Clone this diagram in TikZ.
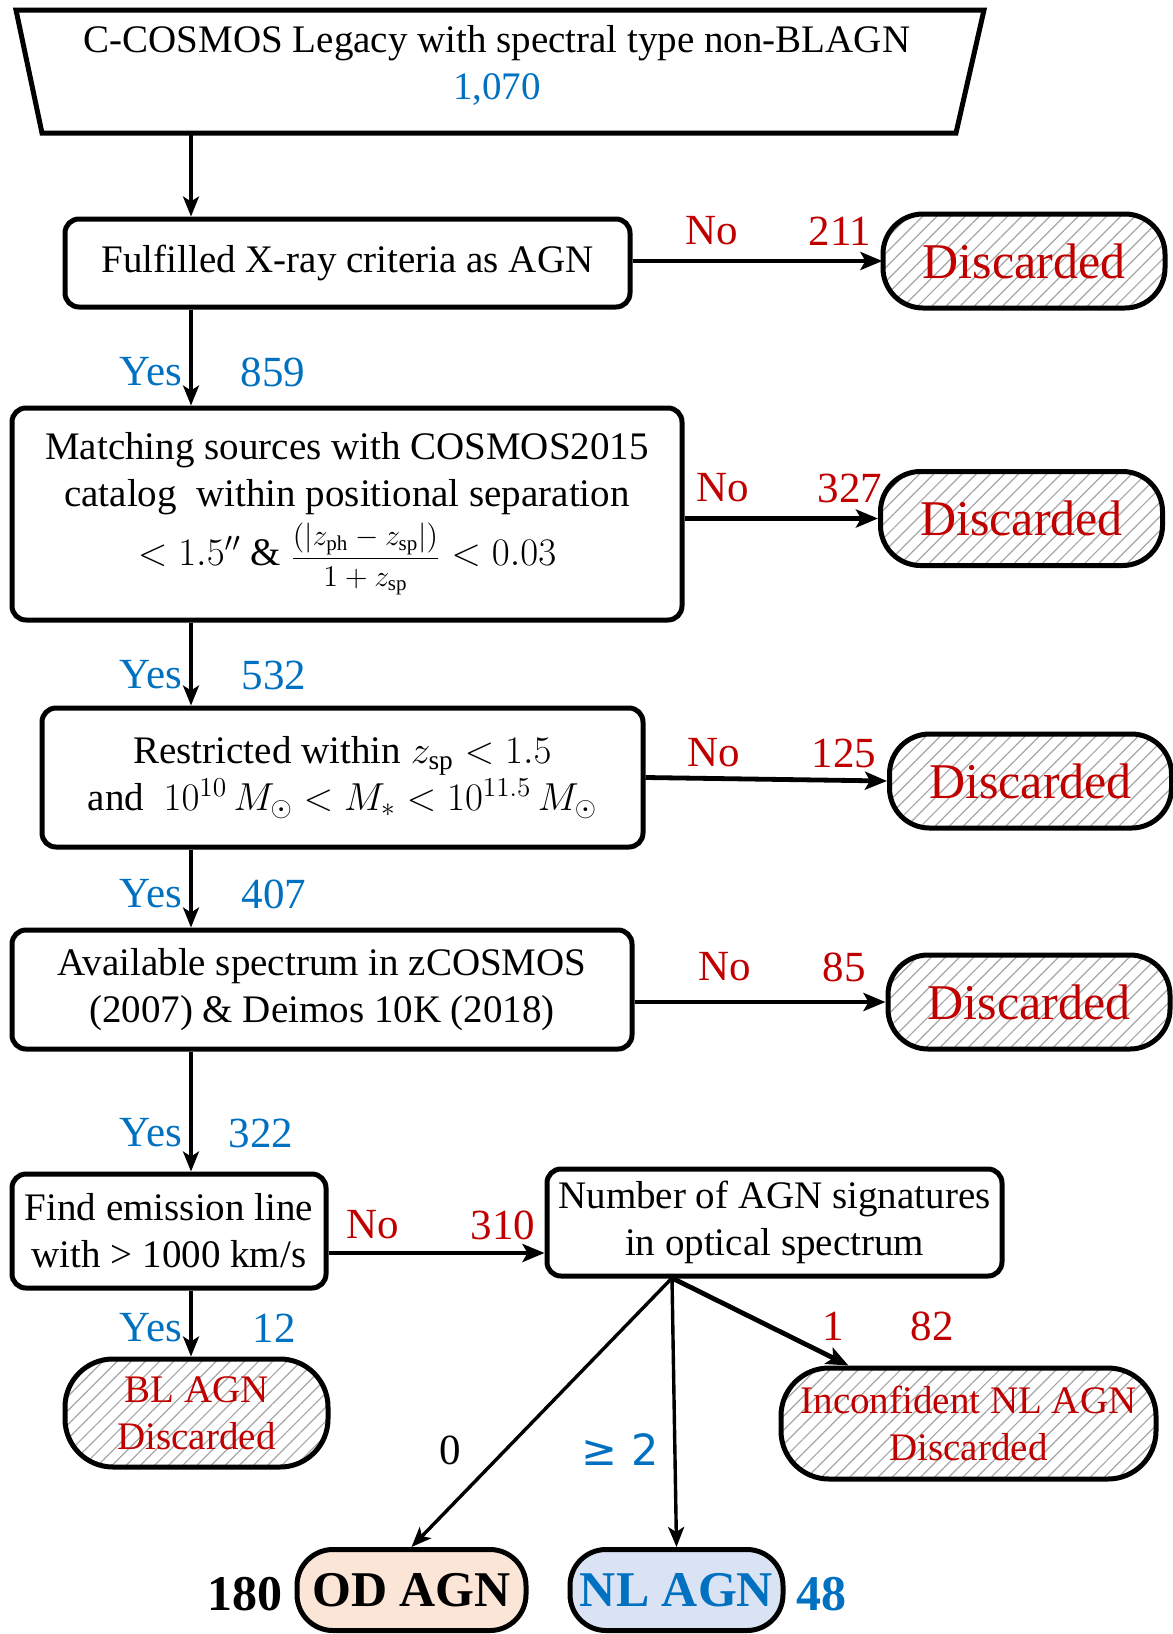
\documentclass[tikz,border=0pt]{standalone}
\usepackage{fix-cm}
\usepackage{fontspec}
\setmainfont{Liberation Serif}
\newfontfamily\symfont{DejaVu Sans}
\usepackage{tikz}
\usetikzlibrary{arrows.meta,positioning,patterns.meta,calc}
\definecolor{fcyes}{HTML}{0070C0}
\definecolor{fcno}{HTML}{C00000}
\definecolor{fcink}{HTML}{000000}
\definecolor{fchatch}{HTML}{A6A6A6}
\definecolor{fcod}{HTML}{FBE5D6}
\definecolor{fcnl}{HTML}{DAE3F3}
\newcommand{\fsmain}{\fontsize{19.5}{23.5}\selectfont}
\newcommand{\fslab}{\fontsize{21.5}{25}\selectfont}
\newcommand{\fsbig}{\fontsize{25}{29}\selectfont}
\newcommand{\zsub}[1]{z_{\mathrm{#1}}}
\tikzset{
  stepbox/.style={draw=fcink,line width=2.5pt,rounded corners=7pt,fill=white,
              align=center,font=\fsmain,text=fcink,inner sep=2pt},
  drop/.style={draw=fcink,line width=2.5pt,rounded corners=20pt,
              pattern={Lines[angle=45,distance=5pt,line width=0.6pt]},pattern color=fchatch,
              minimum width=141pt,minimum height=47pt,
              align=center,font=\fsbig,text=fcno,inner sep=1pt},
  dropsm/.style={drop,font=\fsmain,rounded corners=24pt},
  result/.style={draw=fcink,line width=2.5pt,rounded corners=18pt,
              font=\fsbig\bfseries,inner sep=1pt,minimum height=40.5pt},
  arr/.style={-{Stealth[length=10pt,width=8pt,inset=2.5pt]},line width=1.7pt,draw=fcink},
  harr/.style={-{Stealth[length=11pt,width=9pt,inset=2.5pt]},line width=2.4pt,draw=fcink},
  yeslab/.style={font=\fslab,text=fcyes,inner sep=0pt},
  nolab/.style={font=\fslab,text=fcno,inner sep=0pt},
}

\begin{document}
\begin{tikzpicture}[x=0.5pt,y=-0.5pt]
  \useasboundingbox (0,0) rectangle (1173,1634);

  % ---------- source sample ----------
  \draw[fcink,line width=2.5pt] (16,10) -- (984,10) -- (956,133) -- (42,133) -- cycle;
  \node[align=center,font=\fsmain,inner sep=0pt] (src) at (497,65)
    {C-COSMOS Legacy with spectral type non-BLAGN\\ \textcolor{fcyes}{1,070}};
  \coordinate (srcb) at (191,133);

  % ---------- selection chain ----------
  \node[stepbox,minimum width=282.5pt,minimum height=44pt] (xray) at (347.5,263)
    {Fulfilled X-ray criteria as AGN};
  \node[stepbox,minimum width=335pt,minimum height=106pt] (match) at (347,514)
    {Matching sources with COSMOS2015\\ catalog~ within positional separation\\[3pt]
     $<1.5''$ \& {\fontsize{15}{18}\selectfont$\displaystyle\frac{(|\zsub{ph}-\zsub{sp}|)}{1+\zsub{sp}}$}${}<0.03$};
  \node[stepbox,minimum width=300.5pt,minimum height=69.5pt] (restr) at (342.5,777.5)
    {Restricted within $\zsub{sp}<1.5$\\ and\ \ $10^{10}\,M_\odot<M_*<10^{11.5}\,M_\odot$};
  \node[stepbox,minimum width=310pt,minimum height=59.5pt] (spec) at (322,989.5)
    {Available spectrum in zCOSMOS\\ (2007) \& Deimos 10K (2018)};
  \node[stepbox,minimum width=157pt,minimum height=57pt,inner sep=0pt] (emis) at (169,1231)
    {Find emission line\\ with > 1000 km/s};
  \node[stepbox,minimum width=227.5pt,minimum height=53.5pt,inner sep=0pt] (nsig) at (774.5,1222.5)
    {Number of AGN signatures\\ in optical spectrum};

  % ---------- discarded ----------
  \node[drop] (dis1) at (1024,261) {Discarded};
  \node[drop] (dis2) at (1021.5,518.5) {Discarded};
  \node[drop] (dis3) at (1030.5,781) {Discarded};
  \node[drop] (dis4) at (1029,1002) {Discarded};
  \node[dropsm,minimum width=131.5pt,minimum height=54pt] (bldis) at (196.5,1413)
    {BL AGN\\ Discarded};
  \node[dropsm,minimum width=187.5pt,minimum height=55.5pt,inner sep=0pt] (incdis) at (968.5,1423.5)
    {Inconfident NL AGN\\ Discarded};

  % ---------- final classes ----------
  \node[result,fill=fcod,minimum width=114.5pt] (odagn) at (411.5,1590) {OD AGN};
  \node[result,fill=fcnl,text=fcyes,minimum width=106.5pt] (nlagn) at (676.5,1590) {NL AGN};
  \node[font=\fsbig\bfseries,inner sep=0pt] (n180) at (245,1594) {180};
  \node[font=\fsbig\bfseries,text=fcyes,inner sep=0pt] (n48) at (821,1594) {48};

  % ---------- connectors ----------
  \draw[arr] (srcb) -- (xray.north -| srcb);
  \draw[arr] (xray.south -| srcb) -- (match.north -| srcb);
  \draw[arr] (match.south -| srcb) -- (restr.north -| srcb);
  \draw[arr] (restr.south -| srcb) -- (spec.north -| srcb);
  \draw[arr] (spec.south -| srcb) -- (emis.north -| srcb);
  \draw[arr] (emis.south -| srcb) -- (bldis.north -| srcb);
  \draw[harr] (xray.east |- dis1.west) -- (dis1.west);
  \draw[harr] (match.east |- dis2.west) -- (dis2.west);
  \draw[harr] (restr.east) -- (dis3.west);
  \draw[harr] (spec.east |- dis4.west) -- (dis4.west);
  \coordinate (noout) at ([yshift=-11pt]emis.east);
  \draw[harr] (noout) -- (noout -| nsig.west);
  \coordinate (fork) at (672,1278);
  \draw[arr] (fork) -- (odagn.north);
  \draw[arr] (fork) -- (nlagn.north);
  \draw[harr] (fork) -- ([xshift=-60pt]incdis.north);

  % ---------- counts ----------
  \foreach \y/\xn/\n [count=\i] in {372/273/859,675/274/532,894/274/407,1133/261/322,1328/274/12}{
    \node[yeslab] (yes\i) at (151,\y) {Yes};
    \node[yeslab] (ycnt\i) at (\xn,\y) {\n};}
  \foreach \y/\xno/\xn/\n [count=\i] in {231/712/840/211,488/723/850/327,753/714/844/125,967/725/844/85,1225/373/503/310}{
    \node[nolab] (no\i) at (\xno,\y) {No};
    \node[nolab] (ncnt\i) at (\xn,\y) {\n};}
  \node[nolab] (br1) at (833,1326) {1};
  \node[nolab] (br82) at (932,1326) {82};
  \node[font=\fslab,inner sep=0pt] (br0) at (450,1450) {0};
  \node[yeslab,font=\fslab\symfont] (br2) at (620,1450) {≥ 2};
\end{tikzpicture}
\end{document}
